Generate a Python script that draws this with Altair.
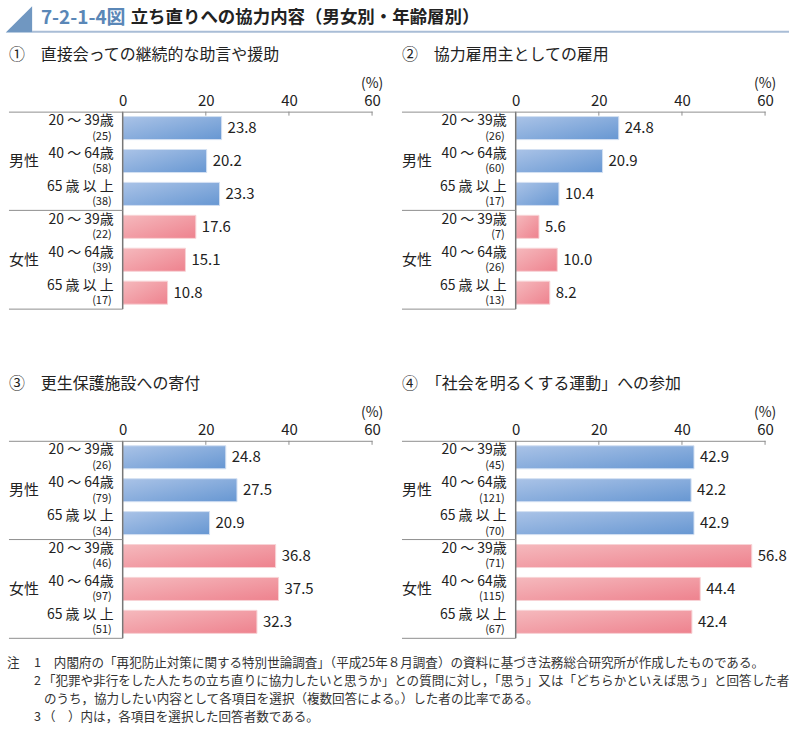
import altair as alt
import pandas as pd

FONT = "Noto Sans CJK JP"

# ---------------- data ----------------
main_code = "7-2-1-4図"
main_title = "立ち直りへの協力内容（男女別・年齢層別）"
panel_titles = [
    "①　直接会っての継続的な助言や援助",
    "②　協力雇用主としての雇用",
    "③　更生保護施設への寄付",
    "④　「社会を明るくする運動」への参加",
]
sexes = ["男性", "男性", "男性", "女性", "女性", "女性"]
ages = ["20 ～ 39歳", "40 ～ 64歳", "65 歳 以 上", "20 ～ 39歳", "40 ～ 64歳", "65 歳 以 上"]
rows = ["m1", "m2", "m3", "f1", "f2", "f3"]

counts = [
    [25, 58, 38, 22, 39, 17],
    [26, 60, 17, 7, 26, 13],
    [26, 79, 34, 46, 97, 51],
    [45, 121, 70, 71, 115, 67],
]
values = [
    [23.8, 20.2, 23.3, 17.6, 15.1, 10.8],
    [24.8, 20.9, 10.4, 5.6, 10.0, 8.2],
    [24.8, 27.5, 20.9, 36.8, 37.5, 32.3],
    [42.9, 42.2, 42.9, 56.8, 44.4, 42.4],
]
ticks = [0, 20, 40, 60]

notes_head = "注"
notes_num = ["1", "2", "", "3"]
notes_text = [
    "内閣府の「再犯防止対策に関する特別世論調査」（平成25年８月調査）の資料に基づき法務総合研究所が作成したものである。",
    "「犯罪や非行をした人たちの立ち直りに協力したいと思うか」との質問に対し，「思う」又は「どちらかといえば思う」と回答した者",
    "のうち，協力したい内容として各項目を選択（複数回答による。）した者の比率である。",
    "（　）内は，各項目を選択した回答者数である。",
]

# ---------------- styling ----------------
W, H = 250, 198
blue = alt.LinearGradient(
    gradient="linear", x1=0, y1=0, x2=1, y2=1,
    stops=[alt.GradientStop(color="#aac3e7", offset=0),
           alt.GradientStop(color="#6797d2", offset=1)])
pink = alt.LinearGradient(
    gradient="linear", x1=0, y1=0, x2=1, y2=1,
    stops=[alt.GradientStop(color="#f5b9bd", offset=0),
           alt.GradientStop(color="#ee828e", offset=1)])
LINE = "#8f8f8f"


def panel(i, extra=None):
    df = pd.DataFrame({
        "row": rows, "sex": sexes, "age": ages,
        "count": [f"({c})" for c in counts[i]],
        "value": values[i],
        "label": [f"{v:.1f}" for v in values[i]],
    })
    xscale = alt.Scale(domain=[0, 60], nice=False)
    xenc = alt.X("value:Q", scale=xscale,
                 axis=alt.Axis(orient="top", values=ticks, ticks=False, grid=False,
                               title=None, labelFontSize=15, labelPadding=3,
                               labelFlush=False, labelOverlap=False,
                               labelColor="#222", labelFont=FONT,
                               domainColor=LINE, domainWidth=1))
    yscale = alt.Scale(domain=rows, paddingInner=0.3, paddingOuter=0.15)
    yenc = alt.Y("row:N", scale=yscale, axis=None)
    base = alt.Chart(df).encode(y=yenc)

    male = base.transform_filter(alt.datum.sex == "男性").mark_bar(
        color=blue, stroke="#d3e0f2", strokeWidth=1).encode(x=xenc)
    female = base.transform_filter(alt.datum.sex == "女性").mark_bar(
        color=pink, stroke="#f8d3d6", strokeWidth=1).encode(x=xenc)
    vals = base.mark_text(align="left", baseline="middle", dx=6, fontSize=15,
                          font=FONT, color="#222").encode(
        x=alt.X("value:Q", scale=xscale), text="label:N")
    agel = base.mark_text(align="right", baseline="middle", dy=-7, fontSize=14,
                          font=FONT, color="#222").encode(x=alt.value(-9), text="age:N")
    cntl = base.mark_text(align="right", baseline="middle", dy=8.5, fontSize=11,
                          font=FONT, color="#222").encode(x=alt.value(-11), text="count:N")
    sexdf = pd.DataFrame({"row": ["m2", "f2"], "sex": ["男性", "女性"]})
    sexl = alt.Chart(sexdf).mark_text(align="left", baseline="middle", fontSize=15,
                                      font=FONT, color="#222").encode(
        y=alt.Y("row:N", scale=yscale, axis=None),
        x=alt.value(-114), text="sex:N")

    tdf = pd.DataFrame({"t": ticks[1:]})
    tickm = alt.Chart(tdf).mark_rule(color=LINE, strokeWidth=1).encode(
        x=alt.X("t:Q", scale=xscale), y=alt.value(0), y2=alt.value(4))
    one = pd.DataFrame({"k": [0]})
    rules = [
        alt.Chart(one).mark_rule(color=LINE, strokeWidth=1).encode(
            x=alt.value(-114), x2=alt.value(0), y=alt.value(yy))
        for yy in (0.5, 99, 198)
    ]
    yline = alt.Chart(one).mark_rule(color="#777", strokeWidth=1.5).encode(
        x=alt.datum(0), y=alt.value(0), y2=alt.value(H))
    pct = alt.Chart(one).mark_text(text="(%)", fontSize=14, font=FONT, color="#222",
                                   align="center", baseline="middle").encode(
        x=alt.datum(60), y=alt.value(-28))
    ptitle = alt.Chart(one).mark_text(text=panel_titles[i], fontSize=16, font=FONT,
                                      color="#222", align="left", baseline="middle").encode(
        x=alt.value(-114), y=alt.value(-57))

    layers = [male, female, yline, tickm] + rules + [vals, agel, cntl, sexl, pct, ptitle]
    if extra:
        layers += extra
    return alt.layer(*layers).properties(width=W, height=H)


one = pd.DataFrame({"k": [0]})
header = [
    alt.Chart(one).mark_point(shape="M -1 1 L 1 -1 L 1 1 Z", filled=True, size=700,
                              color="#7097c1", opacity=1, strokeWidth=0).encode(
        x=alt.value(-104), y=alt.value(-92.5)),
    alt.Chart(one).mark_rule(color="#a9bdd6", strokeWidth=2).encode(
        x=alt.value(-91), x2=alt.value(668), y=alt.value(-80)),
    alt.Chart(one).mark_text(text=main_code, fontSize=19, font=FONT, fontWeight="bold",
                             color="#5a87b7", align="left", baseline="middle").encode(
        x=alt.value(-82), y=alt.value(-94)),
    alt.Chart(one).mark_text(text=main_title, fontSize=17.5, font=FONT, fontWeight="bold",
                             color="#222", align="left", baseline="middle").encode(
        x=alt.value(8), y=alt.value(-94)),
]

notes = [
    alt.Chart(one).mark_text(text=notes_head, fontSize=12.6, font=FONT, color="#333",
                             align="left", baseline="middle").encode(
        x=alt.value(-116), y=alt.value(223)),
]
note_x = [-69, -80, -79, -80]
for k in range(4):
    if notes_num[k]:
        notes.append(alt.Chart(one).mark_text(text=notes_num[k], fontSize=12.6, font=FONT,
                                              color="#333", align="left", baseline="middle").encode(
            x=alt.value(-89), y=alt.value(223 + 18 * k)))
    notes.append(alt.Chart(one).mark_text(text=notes_text[k], fontSize=12.6, font=FONT,
                                          color="#333", align="left", baseline="middle").encode(
        x=alt.value(note_x[k]), y=alt.value(223 + 18 * k)))

p1 = panel(0, header)
p2 = panel(1)
p3 = panel(2, notes)
p4 = panel(3)

chart = alt.concat(
    p1, p2, p3, p4, columns=2,
    spacing={"row": 132, "column": 144}, bounds="flush",
).properties(
    padding={"left": 5, "top": 5, "right": 5, "bottom": 5},
    background="white",
).configure_view(stroke=None)

chart.save("out.html", embed_options={"renderer": "svg", "actions": False})
